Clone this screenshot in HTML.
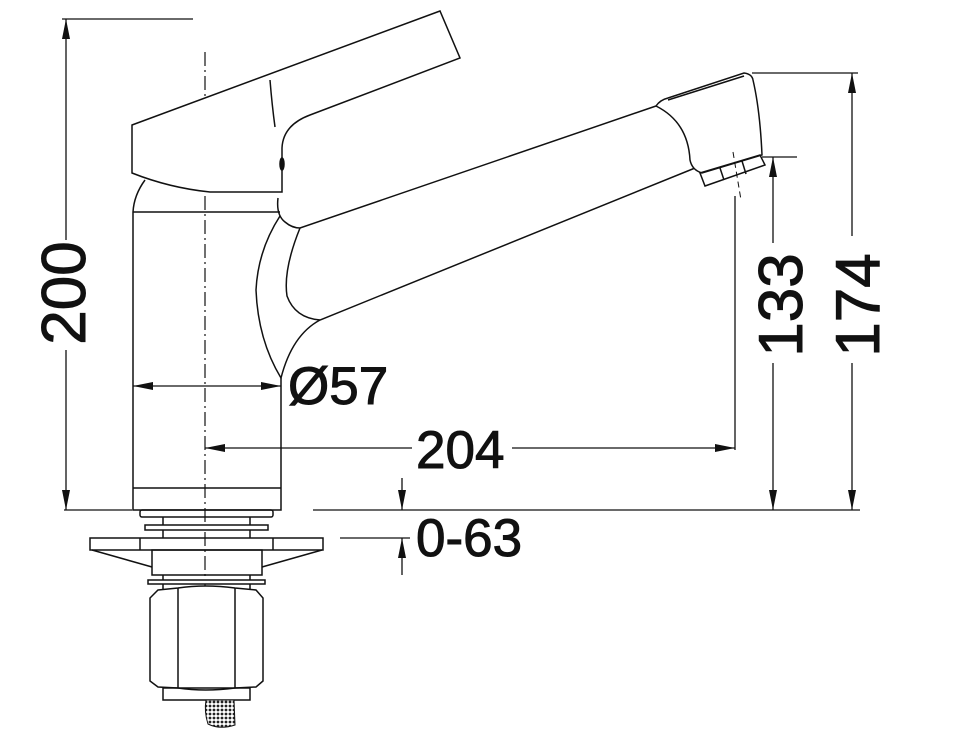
<!DOCTYPE html>
<html><head><style>html,body{margin:0;padding:0;background:#fff}svg{display:block}text{font-family:"Liberation Sans",sans-serif;fill:#111;stroke:#111;stroke-width:1}</style></head>
<body>
<svg width="979" height="731" viewBox="0 0 979 731" xmlns="http://www.w3.org/2000/svg">
<defs>
<marker id="a" viewBox="0 0 20 8" refX="20" refY="4" markerWidth="20" markerHeight="8" markerUnits="userSpaceOnUse" orient="auto"><path d="M0,0 L20,4 L0,8 z" fill="#111"/></marker>
<pattern id="m" width="4" height="4" patternUnits="userSpaceOnUse"><rect width="4" height="4" fill="#fff"/><circle cx="2" cy="2" r="1.4" fill="#222"/></pattern>
</defs>
<g fill="none" stroke="#111" stroke-width="1.5">
<line x1="205" y1="52" x2="205" y2="610" stroke-dasharray="14,4,2,4" stroke-width="1.2"/>
<path d="M132,125 L440,11 L460,58 L310,115 Q283,125 282,148 L282,192 L210,192 Q170,188 132,173 Z" fill="#fff"/>
<path d="M270,80 Q272,105 275,127"/>
<ellipse cx="282" cy="164" rx="2" ry="6" fill="#111"/>
<path d="M145,180 Q134,195 133,212"/>
<line x1="133" y1="212" x2="280" y2="212"/>
<path d="M133,212 L133,510 L281,510 L281,378"/>
<line x1="133" y1="488" x2="281" y2="488"/>
<path d="M278,198 Q276,215 285,222 Q292,228 300,228 L656,106"/>
<path d="M280,216 Q258,250 256,290 Q258,340 281,378 Q292,335 320,320 L700,166"/>
<path d="M300,228 Q283,270 287,296 Q295,318 320,320"/>
<path d="M656,106 Q660,100 668,98 L744,73 Q752,74 753,80 Q760,110 762,155 L702,173 Q692,170 690,160 Q688,122 656,106 Z" fill="#fff"/>
<path d="M668,100 L744,76"/>
<path d="M700,173 L760,155 L765,165 L705,186 Z"/>
<line x1="720" y1="168" x2="724" y2="180"/><line x1="742" y1="161" x2="746" y2="174"/>
<line x1="733" y1="152" x2="741" y2="200" stroke-dasharray="6,4" stroke-width="1"/>
<rect x="140" y="510" width="133" height="7" rx="2"/>
<line x1="163" y1="517" x2="163" y2="538"/><line x1="250" y1="517" x2="250" y2="538"/>
<rect x="145" y="525" width="123" height="5" fill="#fff"/>
<rect x="90" y="538" width="233" height="12"/>
<line x1="140" y1="538" x2="140" y2="550"/><line x1="273" y1="538" x2="273" y2="550"/>
<path d="M92,550 L152,567 M322,550 L262,567"/>
<rect x="152" y="550" width="110" height="25"/>
<line x1="163" y1="575" x2="163" y2="590"/><line x1="250" y1="575" x2="250" y2="590"/>
<rect x="148" y="580" width="117" height="4" fill="#fff"/>
<path d="M158,590 L178,588 Q205,584 235,588 L256,590 L263,598 L263,681 L256,687 L235,688 Q205,692 178,688 L158,687 L150,681 L150,598 Z" fill="#fff"/>
<line x1="178" y1="588" x2="178" y2="688"/><line x1="235" y1="588" x2="235" y2="688"/>
<rect x="163" y="688" width="87" height="12"/>
<path d="M206,700 L234,700 L235,725 Q220,730 208,724 Q204,712 206,700 Z" fill="url(#m)" stroke-width="1"/>
<g stroke-width="1.3">
<line x1="62" y1="19" x2="193" y2="19"/>
<line x1="66" y1="240" x2="66" y2="19" marker-end="url(#a)"/>
<line x1="66" y1="350" x2="66" y2="510" marker-end="url(#a)"/>
<line x1="64" y1="510" x2="132" y2="510"/>
<line x1="313" y1="510" x2="860" y2="510"/>
<line x1="752" y1="73" x2="858" y2="73"/>
<line x1="852" y1="236" x2="852" y2="73" marker-end="url(#a)"/>
<line x1="852" y1="363" x2="852" y2="510" marker-end="url(#a)"/>
<line x1="762" y1="157" x2="797" y2="157"/>
<line x1="773" y1="243" x2="773" y2="157" marker-end="url(#a)"/>
<line x1="773" y1="363" x2="773" y2="510" marker-end="url(#a)"/>
<line x1="205" y1="386" x2="133" y2="386" marker-end="url(#a)"/>
<line x1="205" y1="386" x2="281" y2="386" marker-end="url(#a)"/>
<line x1="412" y1="448" x2="205" y2="448" marker-end="url(#a)"/>
<line x1="512" y1="448" x2="735" y2="448" marker-end="url(#a)"/>
<line x1="735" y1="196" x2="735" y2="450"/>
<line x1="402" y1="478" x2="402" y2="510" marker-end="url(#a)"/>
<line x1="402" y1="575" x2="402" y2="538" marker-end="url(#a)"/>
<line x1="340" y1="538" x2="410" y2="538"/>
</g>
</g>
<text x="0" y="0" font-size="62" text-anchor="middle" transform="translate(85,293) rotate(-90)">200</text>
<text x="0" y="0" font-size="62" text-anchor="middle" transform="translate(802,305) rotate(-90)">133</text>
<text x="0" y="0" font-size="62" text-anchor="middle" transform="translate(879,305) rotate(-90)">174</text>
<text x="288" y="404" font-size="53">Ø57</text>
<text x="416" y="468" font-size="53">204</text>
<text x="416" y="556" font-size="53">0-63</text>
</svg>
</body></html>
